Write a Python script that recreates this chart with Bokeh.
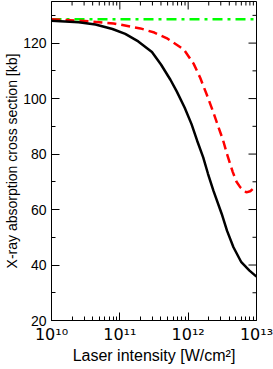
from bokeh.plotting import figure
from bokeh.models import Range1d, FixedTicker
from bokeh.embed import file_html
from bokeh.resources import INLINE

# ---- data ----
black_intensity = [1.0e10, 2.5e10, 4.4e10, 7.8e10, 1.2e11, 1.86e11, 2.95e11, 4.0e11,
                   5.5e11, 6.8e11, 8.9e11, 1.12e12, 1.35e12, 1.66e12, 1.95e12, 2.34e12,
                   3.1e12, 3.7e12, 4.6e12, 6.0e12, 7.9e12, 1.0e13]
black_sigma = [128.1, 127.5, 126.7, 125.1, 123.3, 120.6, 116.8, 112.3,
               106.8, 102.6, 96.7, 90.8, 84.9, 78.8, 72.9, 66.8,
               58.4, 52.4, 46.4, 41.0, 38.0, 35.8]

red_intensity = [1.0e10, 2.6e10, 8.1e10, 2.0e11, 3.2e11, 5.0e11, 8.7e11, 1.2e12,
                 1.5e12, 1.9e12, 2.34e12, 2.75e12, 3.24e12, 3.7e12, 4.5e12, 5.1e12,
                 5.8e12, 7.1e12, 8.1e12, 8.9e12]
red_sigma = [128.6, 128.1, 127.1, 125.3, 123.8, 121.6, 117.6, 112.6,
             107.5, 101.0, 95.0, 90.0, 85.0, 80.0, 73.5, 70.0,
             68.0, 66.2, 66.6, 67.5]

green_intensity = [1.0e10, 1.0e13]
green_sigma = [128.6, 128.6]

x_major = [1e10, 1e11, 1e12, 1e13]
x_labels = ["10\u00b9\u2070", "10\u00b9\u00b9", "10\u00b9\u00b2", "10\u00b9\u00b3"]
x_minor = [2e10, 3e10, 4e10, 5e10, 6e10, 7e10, 8e10, 9e10,
           2e11, 3e11, 4e11, 5e11, 6e11, 7e11, 8e11, 9e11,
           2e12, 3e12, 4e12, 5e12, 6e12, 7e12, 8e12, 9e12]
y_major = [20, 40, 60, 80, 100, 120]
y_minor = [30, 50, 70, 90, 110, 130]

x_title = "Laser intensity [W/cm\u00b2]"
y_title = "X-ray absorption cross section [kb]"

X_MIN, X_MAX = 1e10, 1e13
Y_MIN, Y_MAX = 20, 135

FONT = "Liberation Sans"

p = figure(width=273, height=369, x_axis_type="log",
           x_range=Range1d(X_MIN, X_MAX), y_range=Range1d(Y_MIN, Y_MAX),
           output_backend="svg", toolbar_location=None,
           min_border_left=51, min_border_right=17,
           min_border_top=1, min_border_bottom=49)

p.xgrid.visible = False
p.ygrid.visible = False
p.outline_line_color = "black"
p.outline_line_width = 1
p.background_fill_color = "white"
p.border_fill_color = "white"

xt = FixedTicker(ticks=x_major, minor_ticks=x_minor)
yt = FixedTicker(ticks=y_major, minor_ticks=y_minor)


def style(ax):
    ax.major_tick_in = 8
    ax.major_tick_out = 0
    ax.minor_tick_in = 4
    ax.minor_tick_out = 0
    ax.axis_line_color = "black"
    ax.major_tick_line_color = "black"
    ax.minor_tick_line_color = "black"
    ax.major_label_text_color = "black"
    ax.major_label_text_font = FONT
    ax.axis_label_text_font = FONT
    ax.axis_label_text_font_style = "normal"
    ax.axis_label_text_color = "black"


bx = p.below[0]
bx.ticker = xt
style(bx)
bx.major_label_overrides = dict(zip(x_major, x_labels))
bx.major_label_text_font = "DejaVu Sans"
bx.major_label_text_font_size = "16px"
bx.major_label_standoff = 4
bx.axis_label = x_title
bx.axis_label_text_font_size = "16px"
bx.axis_label_standoff = 0

ly = p.left[0]
ly.ticker = yt
style(ly)
ly.major_label_text_font_size = "14px"
ly.major_label_standoff = 5
ly.axis_label = y_title
ly.axis_label_text_font_size = "14px"
ly.axis_label_standoff = 0

# mirrored ticks on top and right edges of the frame
p.ray(x=x_major, y=[Y_MAX] * len(x_major), length=8, angle=-90,
      angle_units="deg", length_units="screen", line_color="black", line_width=1)
p.ray(x=x_minor, y=[Y_MAX] * len(x_minor), length=4, angle=-90,
      angle_units="deg", length_units="screen", line_color="black", line_width=1)
p.ray(x=[X_MAX] * len(y_major), y=y_major, length=8, angle=180,
      angle_units="deg", length_units="screen", line_color="black", line_width=1)
p.ray(x=[X_MAX] * len(y_minor), y=y_minor, length=4, angle=180,
      angle_units="deg", length_units="screen", line_color="black", line_width=1)

p.line(green_intensity, green_sigma, line_color="#00ff00", line_width=2.3,
       line_dash="10 5 3 5")
p.line(red_intensity, red_sigma, line_color="#ff0000", line_width=2.5,
       line_dash="9 5")
p.line(black_intensity, black_sigma, line_color="black", line_width=2.5)

open("out.html", "w").write(file_html(p, INLINE))
